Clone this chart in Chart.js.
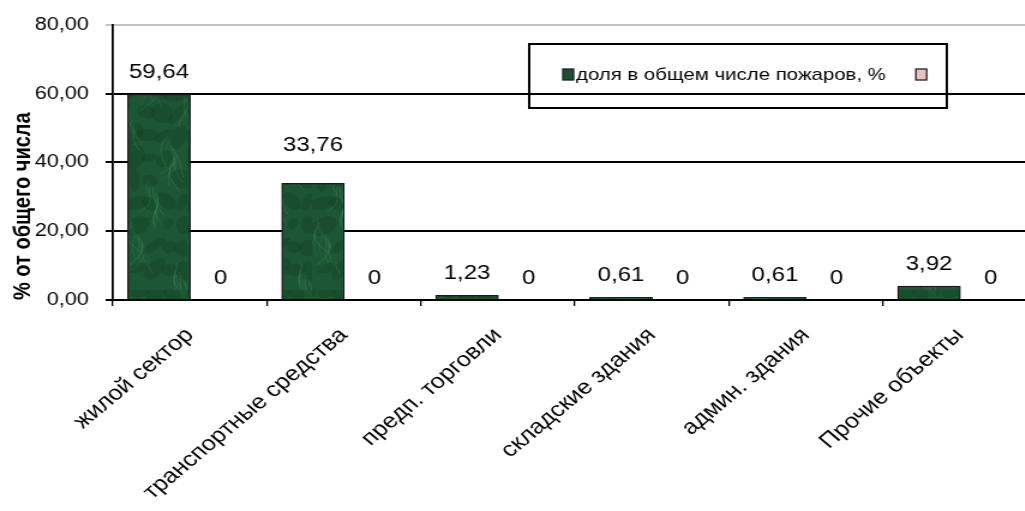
<!DOCTYPE html>
<html>
<head>
<meta charset="utf-8">
<script src="https://cdn.jsdelivr.net/npm/chart.js@4"></script>
<style>
html,body{margin:0;padding:0;overflow:hidden;background:#fff;}
#wrap{width:871px;height:511px;transform:scaleX(1.2);transform-origin:0 0;}
</style>
</head>
<body>
<div id="wrap"><canvas id="c" width="871" height="511"></canvas></div>
<script>
const categories = ['жилой сектор','транспортные средства','предп. торговли','складские здания','админ. здания','Прочие объекты'];
const shareValues = [59.64, 33.76, 1.23, 0.61, 0.61, 3.92];
const secondValues = [0, 0, 0, 0, 0, 0];
const seriesNames = ['доля в общем числе пожаров, %', ''];
const yTicks = [0, 20, 40, 60, 80];

const FONT = 'Liberation Sans';

function makeTexture() {
  const c = document.createElement('canvas');
  c.width = 52; c.height = 290;
  const g = c.getContext('2d');
  g.fillStyle = '#1d5634';
  g.fillRect(0, 0, 52, 290);
  for (let i = 0; i < 45; i++) {
    const x0 = (i * 29) % 52, y0 = (i * 67) % 290;
    g.fillStyle = 'rgba(10,50,25,0.22)';
    g.beginPath();
    g.ellipse(x0, y0, 4 + (i % 4) * 2, 6 + (i % 3) * 3, 0.3 * (i % 5), 0, Math.PI * 2);
    g.fill();
  }
  for (let i = 0; i < 70; i++) {
    const x0 = (i * 37) % 52, y0 = (i * 41) % 290;
    g.strokeStyle = 'rgba(100,180,130,' + (0.10 + (i % 4) * 0.04) + ')';
    g.lineWidth = 1;
    g.beginPath();
    g.moveTo(x0, y0);
    g.bezierCurveTo(x0 + 9 * Math.sin(i), y0 + 10, x0 - 7 * Math.cos(i * 1.7), y0 + 18, x0 + 10 * Math.sin(i * 2.3), y0 + 28);
    g.stroke();
  }
  return g.createPattern(c, 'repeat');
}
const texture = makeTexture();

function fmt(v) {
  return v === 0 ? '0' : v.toFixed(2).replace('.', ',');
}

const dataLabels = {
  id: 'dataLabels',
  afterDatasetsDraw(chart) {
    const ctx = chart.ctx;
    const ys = chart.scales.y;
    const grid = yTicks.filter(t => t > 0).map(t => ys.getPixelForValue(t));
    ctx.save();
    ctx.font = '20px "' + FONT + '"';
    ctx.fillStyle = '#000';
    ctx.textAlign = 'center';
    ctx.textBaseline = 'middle';
    chart.data.datasets.forEach((ds, di) => {
      const meta = chart.getDatasetMeta(di);
      meta.data.forEach((el, i) => {
        let cy = el.y - 22;
        grid.forEach(gy => { if (Math.abs(cy - gy) < 10) cy = gy - 17; });
        ctx.fillText(fmt(ds.data[i]), el.x, cy);
      });
    });
    ctx.restore();
  }
};

const boxLegend = {
  id: 'boxLegend',
  afterDraw(chart, args, opts) {
    const ctx = chart.ctx;
    ctx.save();
    ctx.lineWidth = 2;
    ctx.strokeStyle = '#000';
    ctx.strokeRect(opts.x, opts.y, opts.w, opts.h);
    const cy = opts.y + opts.h / 2 - 1;
    const ds = chart.data.datasets;
    ctx.font = '17px "' + FONT + '"';
    ctx.textBaseline = 'middle';
    ctx.textAlign = 'left';
    let x = opts.x + 28;
    ds.forEach((d, i) => {
      ctx.fillStyle = d.legendColor;
      ctx.fillRect(x, cy - 6, 9, 11);
      ctx.lineWidth = 1.3;
      ctx.strokeStyle = '#222';
      ctx.strokeRect(x, cy - 6, 9, 11);
      ctx.fillStyle = '#000';
      if (d.label) {
        ctx.fillText(d.label, x + 11, cy);
        x += 11 + ctx.measureText(d.label).width + 25;
      }
    });
    ctx.restore();
  }
};

new Chart(document.getElementById('c'), {
  type: 'bar',
  data: {
    labels: categories,
    datasets: [
      {
        label: seriesNames[0],
        data: shareValues,
        backgroundColor: texture,
        legendColor: '#1f4f30',
        borderColor: '#1a1a1a',
        borderWidth: 1.3,
        categoryPercentage: 0.8,
        barPercentage: 1.0,
        inflateAmount: 0.8
      },
      {
        label: seriesNames[1],
        data: secondValues,
        backgroundColor: '#e8c2c2',
        legendColor: '#e8c2c2',
        borderColor: '#222',
        borderWidth: 1,
        categoryPercentage: 0.8,
        barPercentage: 1.0
      }
    ]
  },
  options: {
    responsive: false,
    animation: false,
    devicePixelRatio: 1,
    layout: { padding: { top: 19, right: 7, left: 0, bottom: 0 } },
    plugins: {
      legend: { display: false },
      tooltip: { enabled: false },
      boxLegend: { x: 441, y: 44, w: 348, h: 64 }
    },
    scales: {
      x: {
        grid: { drawOnChartArea: false, offset: true, color: '#000', lineWidth: 1.3, tickLength: 6 },
        border: { display: true, color: '#000', width: 2 },
        ticks: {
          color: '#000',
          font: { family: FONT, size: 21 },
          minRotation: 45, maxRotation: 45,
          padding: 17,
          autoSkip: false
        },
        afterFit(scale) { scale.height = 211; }
      },
      y: {
        min: 0, max: 80,
        afterBuildTicks(scale) { scale.ticks = yTicks.map(v => ({ value: v })); },
        grid: {
          color: ctx => (ctx.tick && ctx.tick.value === 80) ? '#c4c4c4' : '#000',
          lineWidth: 2,
          tickLength: 6
        },
        border: { display: true, color: '#000', width: 1.8 },
        ticks: {
          color: '#000',
          font: { family: FONT, size: 18 },
          padding: 14,
          callback: v => Number(v).toFixed(2).replace('.', ',')
        },
        title: {
          display: true,
          text: '% от общего числа',
          align: 'start',
          color: '#000',
          font: { family: FONT, size: 20, weight: 'bold' },
          padding: { top: 7, bottom: 0 }
        },
        afterFit(scale) { scale.width = 94; }
      }
    }
  },
  plugins: [dataLabels, boxLegend]
});
</script>
</body>
</html>
